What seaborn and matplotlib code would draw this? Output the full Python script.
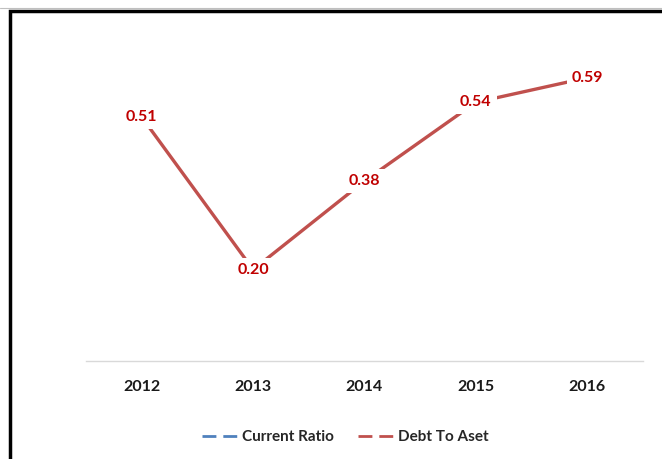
import matplotlib
matplotlib.use("Agg")
import matplotlib.pyplot as plt
import seaborn as sns
import pandas as pd
from matplotlib.lines import Line2D
from matplotlib.patches import Rectangle

# Data
years = ["2012", "2013", "2014", "2015", "2016"]
debt_to_asset = [0.51, 0.20, 0.38, 0.54, 0.59]

sns.set_theme(style="white")
plt.rcParams['font.family'] = ['Lato', 'DejaVu Sans']

df = pd.DataFrame({"Year": years, "Debt To Aset": debt_to_asset})

fig = plt.figure(figsize=(6.62, 4.59), dpi=100)
ax = fig.add_axes([86 / 662, 1 - 361 / 459, (643 - 86) / 662, (361 - 17) / 459])

red = "#C0504D"
blue = "#4F81BD"

sns.lineplot(data=df, x="Year", y="Debt To Aset", ax=ax, color=red,
             linewidth=2.4, sort=False)

# data labels with white box, centred on the points
for i, v in enumerate(debt_to_asset):
    ax.text(i, v, "{:.2f}".format(v), ha="center", va="center",
            color="#C00000", fontsize=11.5, fontweight="bold",
            bbox=dict(boxstyle="square,pad=0.3", fc="white", ec="none"))

ax.set_xlim(-0.5, 4.5)
ax.set_ylim(0.0142, 0.7134)
ax.set_xlabel("")
ax.set_ylabel("")
ax.set_yticks([])
ax.tick_params(axis="x", length=0, pad=14)
for lab in ax.get_xticklabels():
    lab.set_fontweight("bold")
    lab.set_fontsize(11.5)
    lab.set_color("#1a1a1a")
for s in ["top", "right", "left"]:
    ax.spines[s].set_visible(False)
ax.spines["bottom"].set_color("#D9D9D9")
ax.spines["bottom"].set_linewidth(1)

# legend at the bottom
handles = [Line2D([0], [0], color=blue, lw=2, ls=(0, (5, 2.5))),
           Line2D([0], [0], color=red, lw=2, ls=(0, (5, 2.5)))]
leg = fig.legend(handles, ["Current Ratio", "Debt To Aset"],
                 loc="center", bbox_to_anchor=(345 / 662, 1 - 437 / 459),
                 ncol=2, frameon=False, handlelength=2.4, handletextpad=0.2,
                 columnspacing=1.6, prop=dict(weight="bold", size=11))

# chart frame
fig.patches.append(Rectangle((9.5 / 662, -0.1), 2, 1 - 11.5 / 459 + 0.1,
                             transform=fig.transFigure, fill=False,
                             ec="black", lw=2.5))
fig.lines.append(Line2D([0, 1], [1 - 8 / 459, 1 - 8 / 459],
                        transform=fig.transFigure, color="#BFBFBF", lw=0.8))

fig.savefig("out.png", dpi=100)
